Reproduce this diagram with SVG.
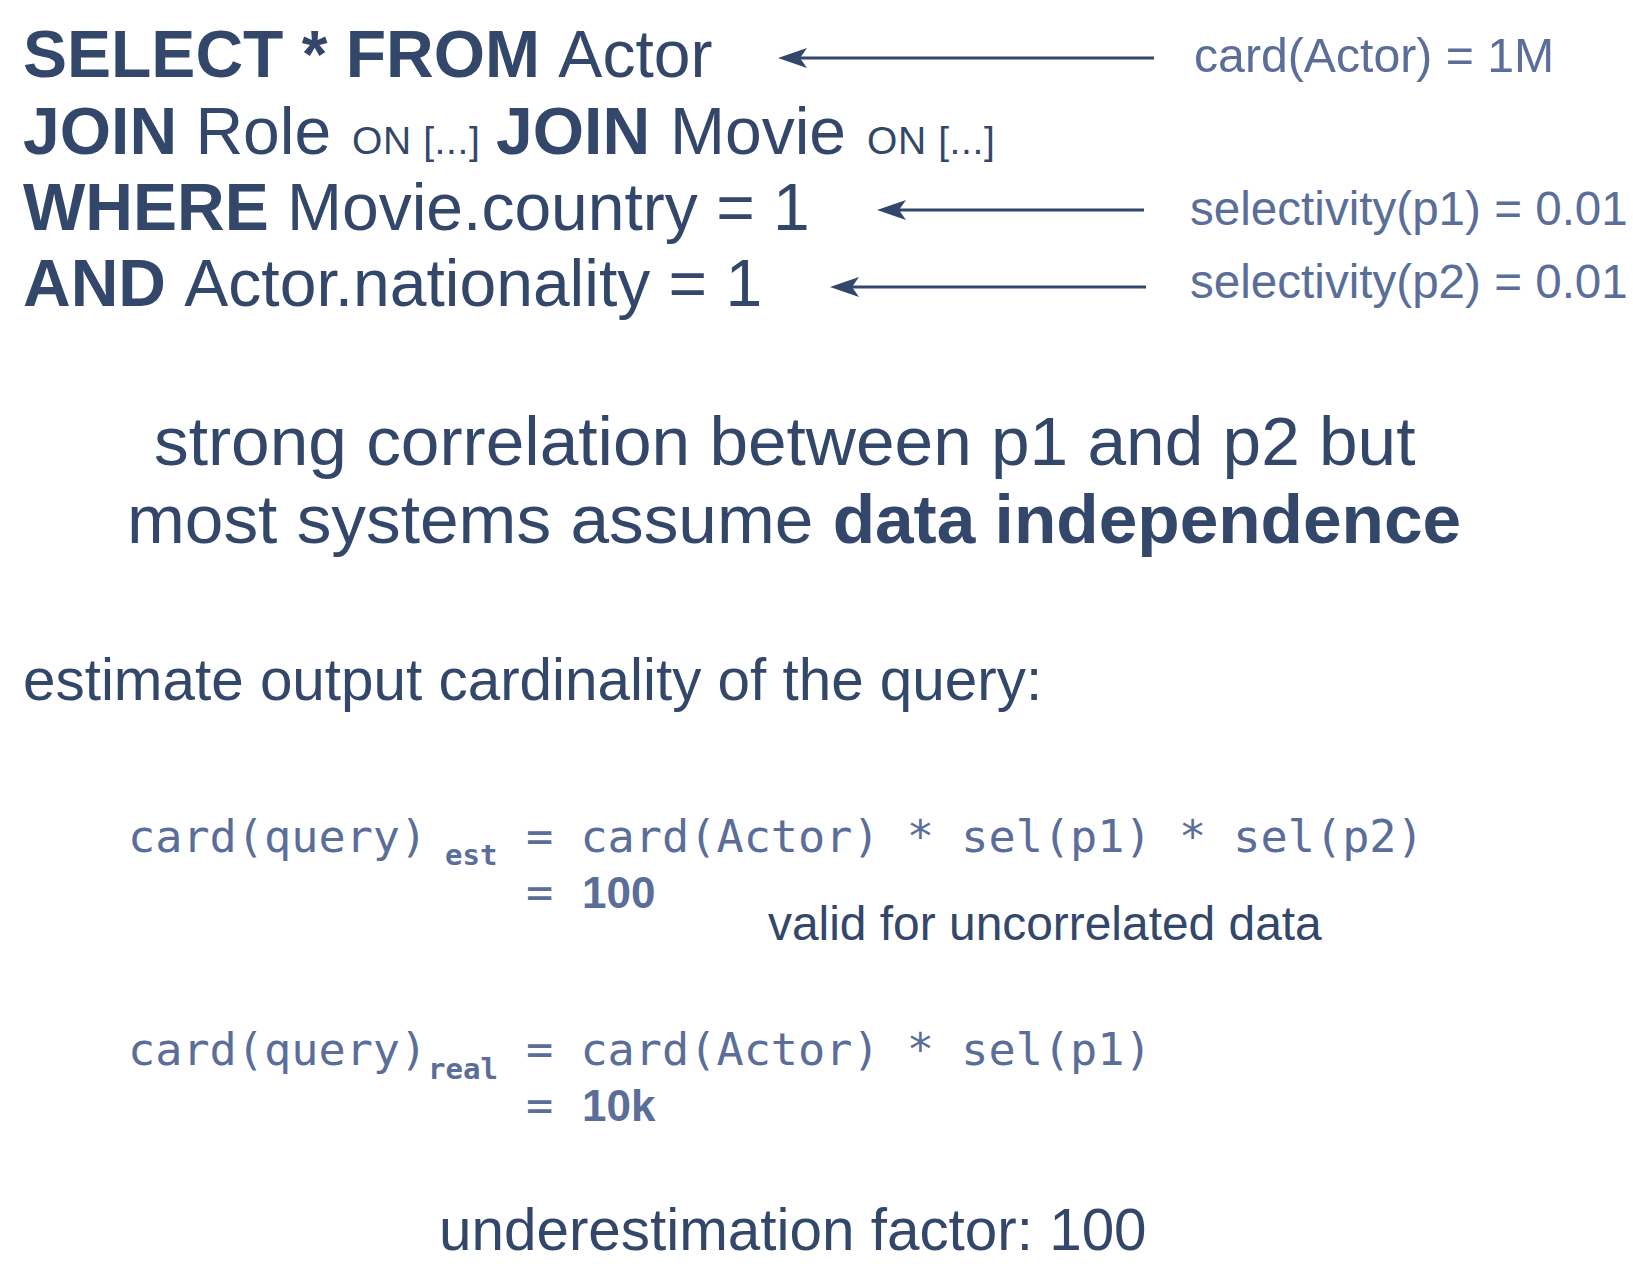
<svg xmlns="http://www.w3.org/2000/svg" width="1633" height="1270" viewBox="0 0 1633 1270">
  <style>
    .sans { font-family: "Liberation Sans", Arial, sans-serif; }
    .mono { font-family: "DejaVu Sans Mono", "Liberation Mono", monospace; }
    .dark { fill: #33476b; }
    .light { fill: #5a6e99; }
    .b { font-weight: bold; }
    .sql { font-size: 66px; }
    .on { font-size: 39px; letter-spacing: 0.6px; }
    .note { font-size: 47.6px; }
    .big { font-size: 69.4px; }
    .mid { font-size: 58.4px; }
    .f { font-size: 45.2px; }
    .sub { font-size: 29px; font-weight: bold; }
    .num { font-size: 44px; font-weight: bold; }
    .arrow { stroke: #33476b; stroke-width: 3; fill: none; marker-end: url(#head); }
  </style>
  <defs>
    <marker id="head" markerUnits="userSpaceOnUse" viewBox="0 0 30 20" refX="7" refY="10" markerWidth="30" markerHeight="20" orient="auto">
      <path d="M0,0 L29,10 L0,20 L7,10 Z" fill="#33476b"/>
    </marker>
  </defs>
  <rect width="1633" height="1270" fill="#ffffff"/>

  <!-- SQL query -->
  <g id="query" class="sans dark sql">
    <text x="23" y="77"><tspan class="b">SELECT * FROM </tspan>Actor</text>
    <text x="23" y="154"><tspan class="b">JOIN </tspan>Role <tspan class="on" x="352">ON [...]</tspan><tspan class="b" x="496">JOIN </tspan><tspan x="670">Movie </tspan><tspan class="on" x="867">ON [...]</tspan></text>
    <text x="23" y="230"><tspan class="b">WHERE </tspan>Movie.country = 1</text>
    <text x="23" y="306"><tspan class="b">AND </tspan>Actor.nationality = 1</text>
  </g>

  <!-- statistics annotations -->
  <g id="card-actor" class="sans light">
    <text x="1194" y="72" font-size="48.2">card(Actor) = 1M</text>
  </g>
  <g id="sel-p1" class="sans light note">
    <text x="1190" y="225">selectivity(p1) = 0.01</text>
  </g>
  <g id="sel-p2" class="sans light note">
    <text x="1190" y="298">selectivity(p2) = 0.01</text>
  </g>

  <!-- arrows from statistics to query clauses -->
  <g id="connectors">
    <line class="arrow" x1="1154" y1="58" x2="800" y2="58"/>
    <line class="arrow" x1="1144" y1="210" x2="899" y2="210"/>
    <line class="arrow" x1="1146" y1="287" x2="852" y2="287"/>
  </g>

  <!-- correlation remark -->
  <g id="remark" class="sans dark big">
    <text x="154" y="465">strong correlation between p1 and p2 but</text>
    <text x="127" y="543">most systems assume <tspan class="b">data independence</tspan></text>
  </g>

  <g id="task" class="sans dark mid">
    <text x="23" y="700">estimate output cardinality of the query:</text>
  </g>

  <!-- estimated cardinality -->
  <g id="estimate" class="light">
    <text class="mono f" x="128" y="852">card(query)</text>
    <text class="mono sub" x="445" y="865">est</text>
    <text class="mono f" x="526" y="852">= card(Actor) * sel(p1) * sel(p2)</text>
    <text class="mono f" x="526" y="908">=</text>
    <text class="sans num" x="582" y="908">100</text>
  </g>
  <g id="valid" class="sans dark">
    <text x="768" y="940" font-size="47.9">valid for uncorrelated data</text>
  </g>

  <!-- real cardinality -->
  <g id="real" class="light">
    <text class="mono f" x="128" y="1065">card(query)</text>
    <text class="mono sub" x="428" y="1079">real</text>
    <text class="mono f" x="526" y="1065">= card(Actor) * sel(p1)</text>
    <text class="mono f" x="526" y="1121">=</text>
    <text class="sans num" x="582" y="1121">10k</text>
  </g>

  <g id="factor" class="sans dark mid">
    <text x="439" y="1250">underestimation factor: 100</text>
  </g>
</svg>
